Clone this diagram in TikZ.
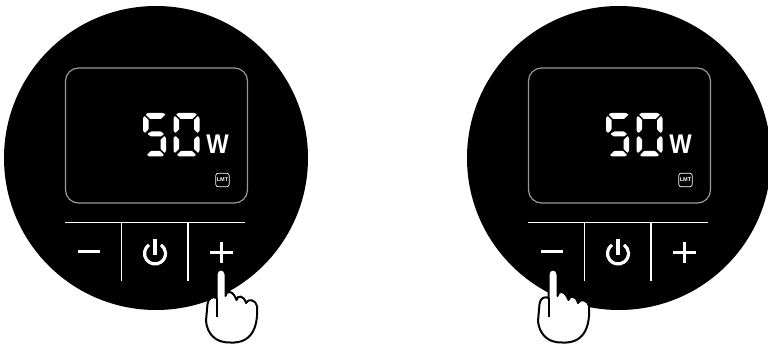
\documentclass[tikz,border=0pt]{standalone}
\usepackage{fontspec}
\setmainfont{Liberation Sans}

\begin{document}
\begin{tikzpicture}[x=1pt,y=-1pt]
    \tikzset{
      disc/.style={fill=black, draw=none},
      lcd/.style={draw=black!40, line width=1.2pt, rounded corners=13pt},
      keyline/.style={draw=white, line width=1.5pt},
      keysign/.style={draw=white, line width=3.6pt},
      powerring/.style={draw=white, line width=3.2pt},
      seg/.style={fill=white, draw=none, rounded corners=0.6pt},
      hand/.style={draw=black, fill=white, line width=2pt, line join=round}
    }
    \useasboundingbox (0,0) rectangle (768,344);
    \clip (0,0) rectangle (768,344);
    \foreach \x in {0,463} {
      \begin{scope}[xshift=\x pt]
        \fill[disc] (156,158) circle (152);
        \draw[lcd] (65.5,68) rectangle (247.5,203);
        % digit 5
        \fill[seg] (145.5,114.5) -- (148,113) -- (163,113) -- (165.5,114.5) -- (161,119) -- (150,119) -- cycle;
        \fill[seg] (144.5,116) -- (148.5,120) -- (148.5,129.5) -- (145,133) -- (143,131) -- (143,118) -- cycle;
        \fill[seg] (147.5,134) -- (151,131.5) -- (161,131.5) -- (164,134) -- (161,136.5) -- (151,136.5) -- cycle;
        \fill[seg] (164.5,136) -- (166,138) -- (166,151) -- (164.5,153) -- (160.5,149) -- (160.5,140) -- cycle;
        \fill[seg] (147,155) -- (151,151) -- (160,151) -- (164,155) -- (162,156.5) -- (149,156.5) -- cycle;
        % digit 0
        \fill[seg] (176,114.5) -- (178.5,113) -- (194.5,113) -- (197,114.5) -- (192.5,119) -- (180.5,119) -- cycle;
        \fill[seg] (175,116) -- (179,120) -- (179,129.5) -- (175.5,133) -- (173.5,131) -- (173.5,118) -- cycle;
        \fill[seg] (198,116) -- (199.5,118) -- (199.5,131) -- (197.5,133) -- (194,129.5) -- (194,120) -- cycle;
        \fill[seg] (175.5,136) -- (179,139.5) -- (179,149) -- (175,153) -- (173.5,151) -- (173.5,138) -- cycle;
        \fill[seg] (197.5,136) -- (199.5,138) -- (199.5,151) -- (198,153) -- (194,149) -- (194,139.5) -- cycle;
        \fill[seg] (177,155) -- (181,151) -- (192,151) -- (196,155) -- (194,156.5) -- (179,156.5) -- cycle;
        \node[text=white, font=\fontsize{27}{27}\selectfont\bfseries, xscale=0.88, inner sep=0pt] (unit\x) at (217.5,144.5) {W};
        \node[draw=white, rounded corners=2.5pt, line width=0.7pt, text=white, font=\fontsize{5.5}{6}\selectfont\bfseries, minimum width=13.5pt, minimum height=13.5pt, inner sep=0pt] (lmt\x) at (222.5,180) {LMT};
        % keys
        \draw[keyline] (65,222.5) -- (245,222.5);
        \draw[keyline] (121.5,222.5) -- (121.5,281);
        \draw[keyline] (188,222.5) -- (188,281);
        \draw[keysign] (78,251.5) -- (99.5,251.5);
        \draw[powerring] (155,253.5) ++(235:10.5) arc[start angle=235,end angle=-55,radius=10.5];
        \draw[powerring] (155,239) -- (155,255);
        \draw[keysign] (210,252.5) -- (233,252.5);
        \draw[keysign] (221.5,242) -- (221.5,263);
      \end{scope}
    }
    \foreach \hx in {0,332} {
      \begin{scope}[xshift=\hx pt]
        \draw[hand] (216.5,274) .. controls (216.5,268) and (225.5,268) .. (225.5,274)
          -- (225.5,296) .. controls (226,290) and (233,290) .. (236.5,300)
          .. controls (237,295) and (244,295) .. (246,303)
          .. controls (248,298) and (256,300) .. (257,306)
          .. controls (258,322) and (255,344) .. (230,342.5)
          .. controls (215,343) and (207,333) .. (206,321)
          -- (207.5,304) .. controls (208,298) and (213,296) .. (216.5,298) -- cycle;
        \draw[draw=black, line width=2pt] (216.5,298) -- (216.5,317);
      \end{scope}
    }
  \end{tikzpicture}
\end{document}
